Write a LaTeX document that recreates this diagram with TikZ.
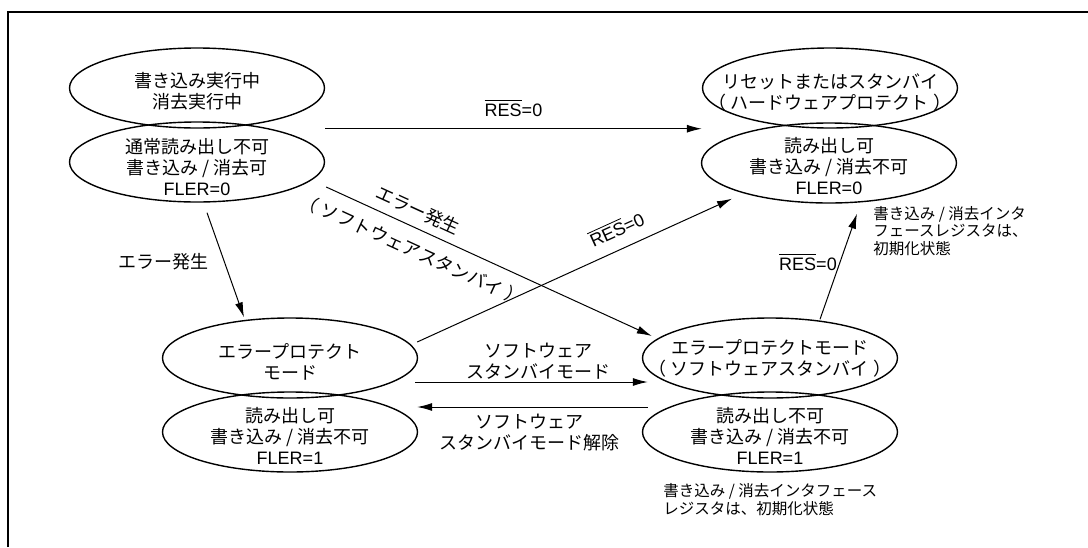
\documentclass[tikz,border=0pt]{standalone}
\usepackage{fontspec}
\setmainfont{Noto Sans CJK JP}
\newfontfamily\latn{Liberation Sans}
\usetikzlibrary{shapes.geometric,arrows.meta,calc}
\newcommand{\resnull}{{\latn$\overline{\hbox{RES}}$=0}}
\newcommand{\kl}{（\hspace{0.25em}}
\newcommand{\kr}{\hspace{0.25em}）}
\begin{document}
\begin{tikzpicture}[x=0.5pt,y=-0.5pt, every node/.style={font=\fontsize{9}{10.5}\selectfont},
  state/.style={draw,ellipse,line width=0.7pt,minimum width=127.5pt,minimum height=40pt,inner sep=0pt},
  stxt/.style={align=center,inner sep=0pt},
  note/.style={align=left,anchor=west,inner sep=0pt,font=\fontsize{7.75}{8.9}\selectfont},
  tr/.style={-{Latex[length=7.5pt,width=4pt]},line width=0.5pt}]
  \useasboundingbox (0,0) rectangle (1088,547);
  \draw[line width=0.75pt] (8,547) -- (8,12) -- (1088,12);
  % states
  \node[state] (tlA) at (197,88) {};
  \node[state] (tlB) at (197,162) {};
  \node[state] (trA) at (830,88) {};
  \node[state] (trB) at (829,163) {};
  \node[state] (blA) at (290,358) {};
  \node[state] (blB) at (290,432) {};
  \node[state] (brA) at (770,358) {};
  \node[state] (brB) at (770,432) {};
  \node[stxt] (tlAt) at (197,91) {書き込み実行中\\消去実行中};
  \node[stxt] (tlBt) at (197,167) {通常読み出し不可\\書き込み / 消去可\\{\latn FLER=0}};
  \node[stxt] (trAt) at (830,92) {リセットまたはスタンバイ\\\kl ハードウェアプロテクト\kr};
  \node[stxt] (trBt) at (829,166) {読み出し可\\書き込み / 消去不可\\{\latn FLER=0}};
  \node[stxt] (blAt) at (290,362) {エラープロテクト\\モード};
  \node[stxt] (blBt) at (290,436) {読み出し可\\書き込み / 消去不可\\{\latn FLER=1}};
  \node[stxt] (brAt) at (770,358) {エラープロテクトモード\\\kl ソフトウェアスタンバイ\kr};
  \node[stxt] (brBt) at (770,436) {読み出し不可\\書き込み / 消去不可\\{\latn FLER=1}};
  % transitions
  \draw[tr] (tlB.east |- tlA.south) -- (trA.west |- trA.south)
    node[midway,above=6pt,inner sep=0pt] (lRes1) {\resnull};
  \draw[tr] ($(tlB.south)+(10,10)$) -- ($(blA.north)+(-46,0)$);
  \node (lErr) at (163,262) {エラー発生};
  \draw[tr] ($(tlB.east)+(1,25)$) -- ($(brA.west)+(10,-22)$)
    node[pos=0.26,above=4pt,sloped,inner sep=0pt] (lErrS) {エラー発生}
    node[pos=0.29,below=6pt,sloped,inner sep=0pt] (lErrSb) {\kl ソフトウェアスタンバイ\kr};
  \draw[tr] ($(blA.east)+(-1,-16)$) -- ($(trB.south)+(-97,-5)$)
    node[pos=0.66,above=6pt,sloped,inner sep=0pt] (lRes2) {\resnull};
  \draw[tr] ($(brA.north)+(50,2)$) -- ($(trB.south)+(28,10)$);
  \node (lRes3) at (808,262) {\resnull};
  \draw[tr] ($(blA.east)+(-3,24)$) -- ($(brA.west)+(6,24)$);
  \node[stxt] (lSby) at (538,361) {ソフトウェア\\スタンバイモード};
  \draw[tr] ($(brB.west)+(6,-25)$) -- ($(blB.east)+(-1,-25)$);
  \node[stxt] (lSbyOff) at (529,433) {ソフトウェア\\スタンバイモード解除};
  % notes
  \node[note] (nTop) at (873,231) {書き込み / 消去インタ\\フェースレジスタは、\\初期化状態};
  \node[note] (nBot) at (663,500) {書き込み / 消去インタフェース\\レジスタは、初期化状態};
\end{tikzpicture}
\end{document}
